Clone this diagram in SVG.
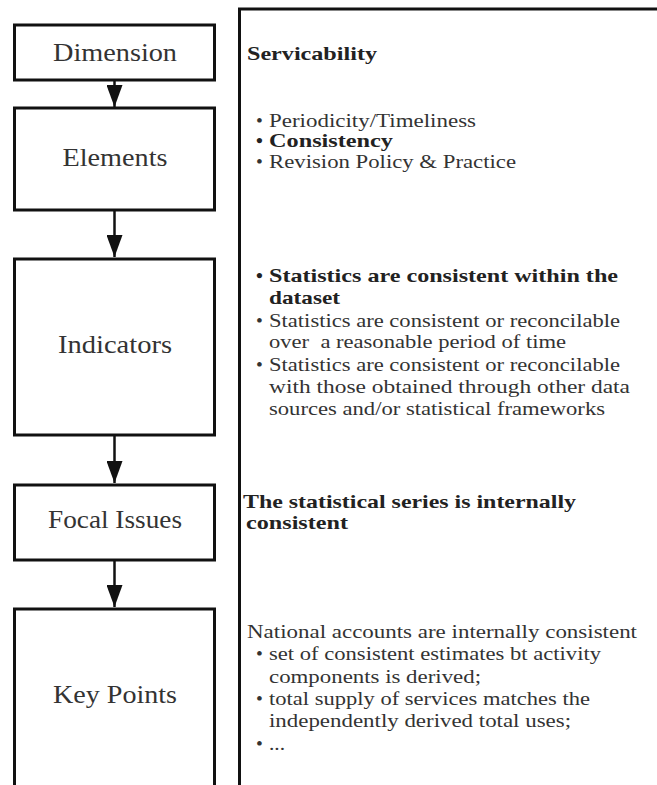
<svg xmlns="http://www.w3.org/2000/svg" width="657" height="785" viewBox="0 0 657 785">
<style>
.box{fill:#fff;stroke:#111;stroke-width:3}
.lbl{font-family:"Liberation Serif",Tinos,"DejaVu Serif",serif;font-size:26px;fill:#333;text-anchor:middle}
.t{font-family:"Liberation Serif",Tinos,"DejaVu Serif",serif;font-size:19.5px;fill:#333}
.b{font-weight:bold;fill:#222}
.con{stroke:#111;stroke-width:2.5;fill:none;marker-end:url(#ah)}
</style>
<defs>
<marker id="ah" markerUnits="userSpaceOnUse" markerWidth="22" markerHeight="16" refX="22" refY="8" orient="auto">
<path d="M0,0 L22,8 L0,16 z" fill="#111"/>
</marker>
</defs>
<rect width="657" height="785" fill="#fff"/>
<g id="panel">
<path d="M657,9 H239.5 V785" fill="none" stroke="#111" stroke-width="3"/>
</g>
<g id="connectors">
<line class="con" x1="114.5" y1="80" x2="114.5" y2="107"/>
<line class="con" x1="114.5" y1="210" x2="114.5" y2="257"/>
<line class="con" x1="114.5" y1="435" x2="114.5" y2="483"/>
<line class="con" x1="114.5" y1="560" x2="114.5" y2="607"/>
</g>
<g id="dimension">
<rect class="box" x="14.5" y="25" width="200" height="55"/>
<text class="lbl" x="115" y="61" textLength="124" lengthAdjust="spacingAndGlyphs">Dimension</text>
</g>
<g id="elements">
<rect class="box" x="14.5" y="108" width="200" height="102"/>
<text class="lbl" x="115" y="166" textLength="105" lengthAdjust="spacingAndGlyphs">Elements</text>
</g>
<g id="indicators">
<rect class="box" x="14.5" y="259" width="200" height="176"/>
<text class="lbl" x="115" y="353" textLength="114" lengthAdjust="spacingAndGlyphs">Indicators</text>
</g>
<g id="focal">
<rect class="box" x="14.5" y="485" width="200" height="75"/>
<text class="lbl" x="115" y="528" textLength="134" lengthAdjust="spacingAndGlyphs">Focal Issues</text>
</g>
<g id="keypoints">
<rect class="box" x="14.5" y="609" width="200" height="200"/>
<text class="lbl" x="115" y="703" textLength="124" lengthAdjust="spacingAndGlyphs">Key Points</text>
</g>
<g id="dimension-text">
<text class="t b" x="247" y="60" textLength="130" lengthAdjust="spacingAndGlyphs">Servicability</text>
</g>
<g id="elements-text">
<text class="t" x="256" y="127">•</text>
<text class="t" x="269" y="127" textLength="207" lengthAdjust="spacingAndGlyphs">Periodicity/Timeliness</text>
<text class="t b" x="256" y="147">•</text>
<text class="t b" x="269" y="147" textLength="124" lengthAdjust="spacingAndGlyphs">Consistency</text>
<text class="t" x="256" y="168">•</text>
<text class="t" x="269" y="168" textLength="247" lengthAdjust="spacingAndGlyphs">Revision Policy &amp; Practice</text>
</g>
<g id="indicators-text">
<text class="t b" x="256" y="282">•</text>
<text class="t b" x="269" y="282" textLength="349" lengthAdjust="spacingAndGlyphs">Statistics are consistent within the</text>
<text class="t b" x="269" y="304" textLength="71" lengthAdjust="spacingAndGlyphs">dataset</text>
<text class="t" x="256" y="327">•</text>
<text class="t" x="269" y="327" textLength="351" lengthAdjust="spacingAndGlyphs">Statistics are consistent or reconcilable</text>
<text class="t" x="269" y="348" textLength="297" lengthAdjust="spacingAndGlyphs" xml:space="preserve">over  a reasonable period of time</text>
<text class="t" x="256" y="371">•</text>
<text class="t" x="269" y="371" textLength="351" lengthAdjust="spacingAndGlyphs">Statistics are consistent or reconcilable</text>
<text class="t" x="269" y="393" textLength="361" lengthAdjust="spacingAndGlyphs">with those obtained through other data</text>
<text class="t" x="269" y="415" textLength="336" lengthAdjust="spacingAndGlyphs">sources and/or statistical frameworks</text>
</g>
<g id="focal-text">
<text class="t b" x="243" y="508" textLength="333" lengthAdjust="spacingAndGlyphs">The statistical series is internally</text>
<text class="t b" x="246" y="529" textLength="102" lengthAdjust="spacingAndGlyphs">consistent</text>
</g>
<g id="keypoints-text">
<text class="t" x="247" y="638" textLength="390" lengthAdjust="spacingAndGlyphs">National accounts are internally consistent</text>
<text class="t" x="256" y="660">•</text>
<text class="t" x="269" y="660" textLength="332" lengthAdjust="spacingAndGlyphs">set of consistent estimates bt activity</text>
<text class="t" x="269" y="683" textLength="212" lengthAdjust="spacingAndGlyphs">components is derived;</text>
<text class="t" x="256" y="705">•</text>
<text class="t" x="269" y="705" textLength="321" lengthAdjust="spacingAndGlyphs">total supply of services matches the</text>
<text class="t" x="269" y="727" textLength="302" lengthAdjust="spacingAndGlyphs">independently derived total uses;</text>
<text class="t" x="256" y="750">•</text>
<text class="t" x="269" y="750" textLength="16" lengthAdjust="spacingAndGlyphs">...</text>
</g>
</svg>
